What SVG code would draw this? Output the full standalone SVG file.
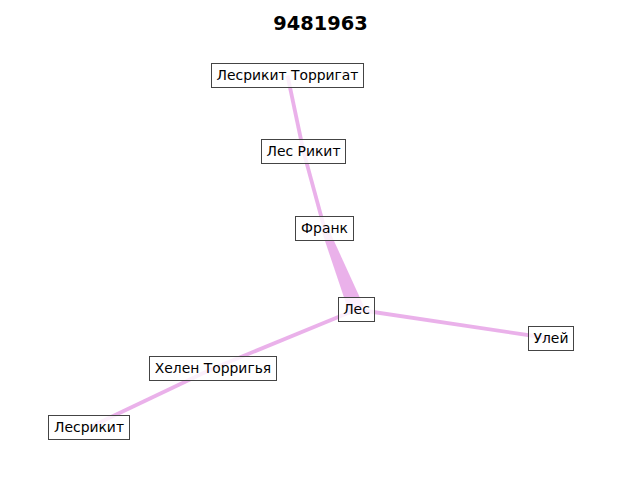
<svg xmlns="http://www.w3.org/2000/svg" width="640" height="480" viewBox="0 0 640 480">
<style>
.e{stroke:#e6a3e6;stroke-width:3.8;stroke-linecap:butt;fill:none;opacity:0.85}
.w{fill:#e6a3e6;opacity:0.85}
.n rect{fill:#ffffff;fill-opacity:0.8;stroke:#444444;stroke-width:1}
.n text{font-family:"DejaVu Sans",sans-serif;font-size:13.9px;fill:#000;text-anchor:middle}
.t{font-family:"DejaVu Sans",sans-serif;font-size:19.4px;font-weight:bold;text-anchor:middle;fill:#000}
</style>
<rect width="640" height="480" fill="#ffffff"/>
<text class="t" x="320.5" y="30">9481963</text>
<g id="edges">
<line class="e" x1="287.5" y1="75.5" x2="303.5" y2="151.5"/>
<line class="e" x1="303.5" y1="151.5" x2="324.5" y2="228.5"/>
<polygon class="w" points="327.76,227.21 363.94,306.56 349.06,312.44 321.24,229.79"/>
<line class="e" x1="356.5" y1="309.5" x2="551" y2="338.5"/>
<line class="e" x1="356.5" y1="309.5" x2="213" y2="368.5"/>
<line class="e" x1="213" y1="368.5" x2="89" y2="427.5"/>
</g>
<g id="n1" class="n"><rect x="211.5" y="63.5" width="152" height="24"/><text x="287.5" y="80.3">Лесрикит Торригат</text></g>
<g id="n2" class="n"><rect x="261.5" y="139.5" width="84" height="24"/><text x="303.5" y="156.3">Лес Рикит</text></g>
<g id="n3" class="n"><rect x="295.5" y="216.5" width="58" height="24"/><text x="324.5" y="233.3">Франк</text></g>
<g id="n4" class="n"><rect x="338.5" y="297.5" width="36" height="24"/><text x="356.5" y="314.3">Лес</text></g>
<g id="n5" class="n"><rect x="528.5" y="326.5" width="45" height="24"/><text x="551" y="343.3">Улей</text></g>
<g id="n6" class="n"><rect x="149.5" y="356.5" width="127" height="24"/><text x="213" y="373.3">Хелен Торригья</text></g>
<g id="n7" class="n"><rect x="48.5" y="415.5" width="81" height="24"/><text x="89" y="432.3">Лесрикит</text></g>
</svg>
